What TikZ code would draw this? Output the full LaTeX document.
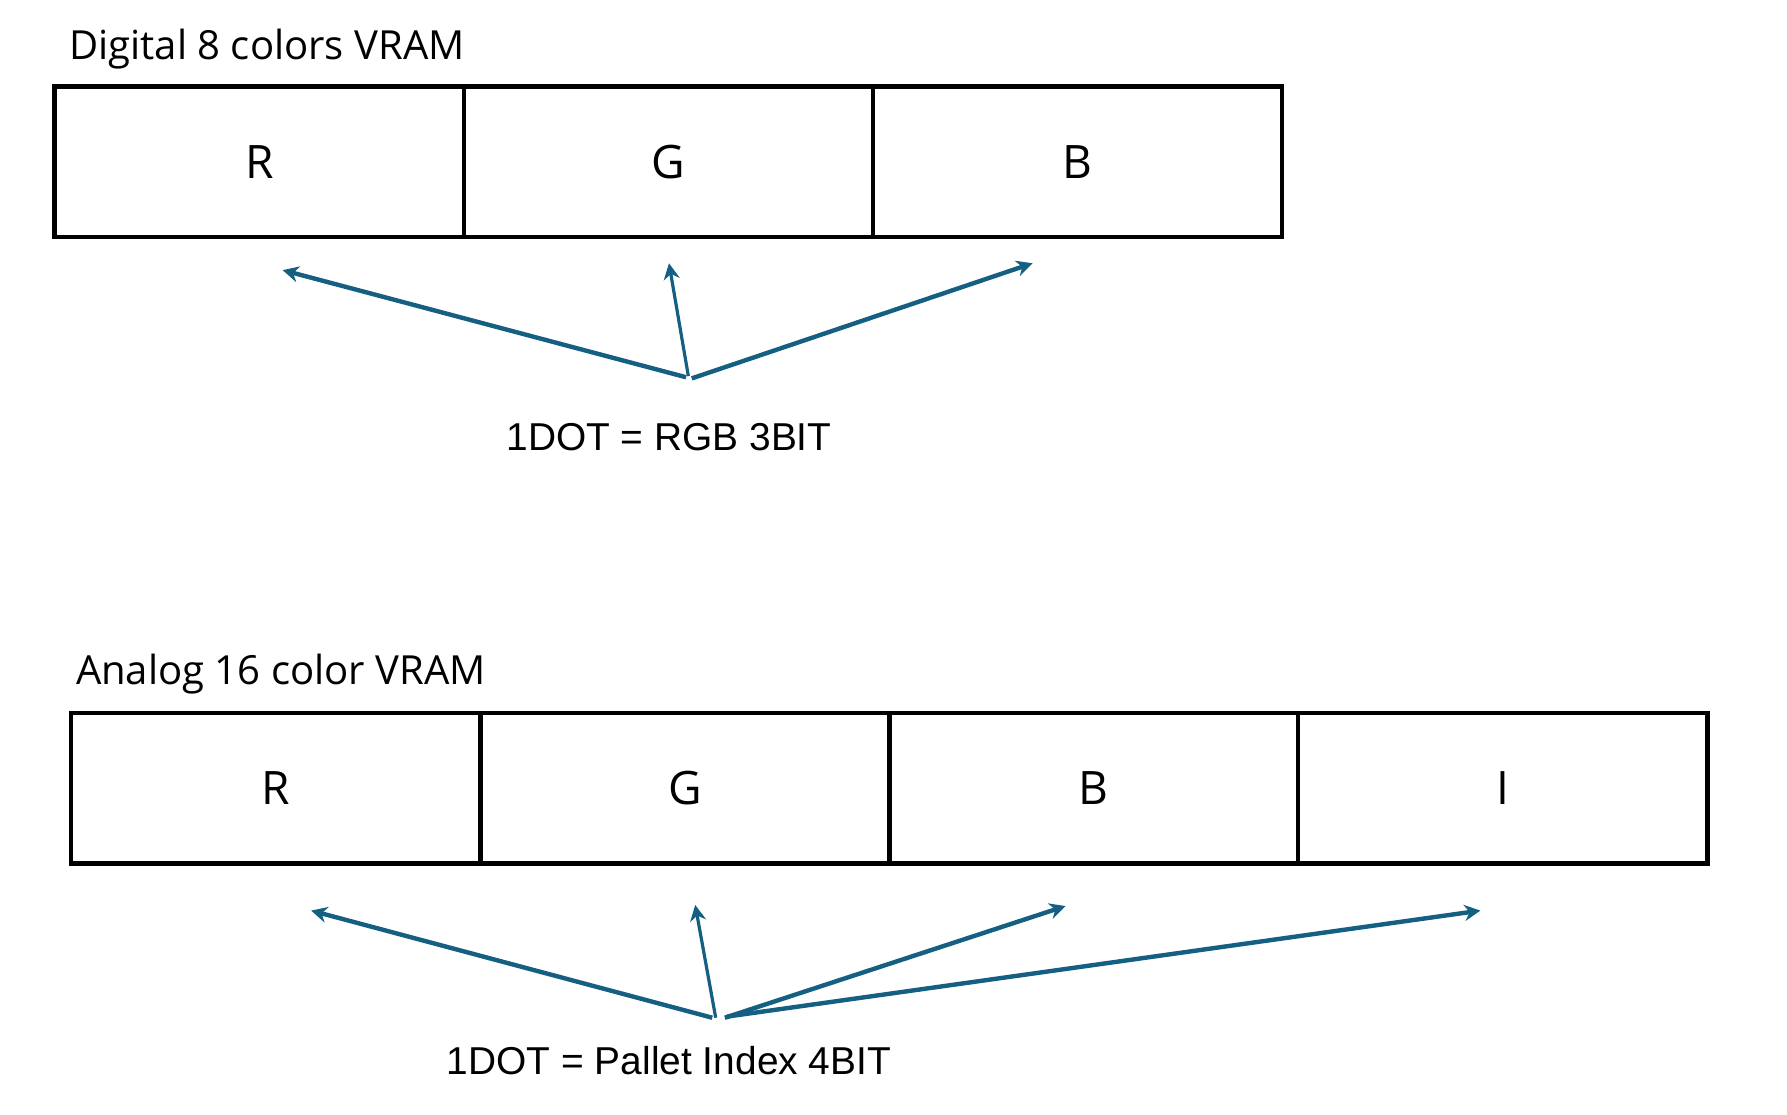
\documentclass[tikz,border=0pt]{standalone}
\usepackage{fontspec}
\setmainfont{Open Sans}
\newfontfamily\labfont{Liberation Sans}
\usetikzlibrary{arrows.meta}
\definecolor{arrblue}{HTML}{156082}
\tikzset{
  cell/.style={draw=black, line width=1.1pt, minimum width=3.59cm, minimum height=1.32cm, inner sep=0pt, font=\fontsize{11.5}{14}\selectfont},
  title/.style={inner sep=0pt, font=\fontsize{10}{12}\selectfont},
  lab/.style={inner sep=0pt, font=\labfont\fontsize{9.7}{12}\selectfont},
  arr/.style={draw=arrblue, line width=1.1pt, -{Stealth[length=4pt,width=4pt]}},
  arrthin/.style={arr, line width=0.8pt}
}
\begin{document}
\begin{tikzpicture}[x=0.01cm,y=-0.01cm]
\useasboundingbox (0,0) rectangle (1568,978);
% top
\node[title, anchor=base west] (t1) at (60,52) {Digital 8 colors VRAM};
\node[cell] (r1) at (227.5,142) {R};
\node[cell] (g1) at (586.5,142) {G};
\node[cell] (b1) at (945.5,142) {B};
\node[lab, anchor=base] (l1) at (587,395) {1DOT = RGB 3BIT};
\coordinate (o1a) at (602,331);
\coordinate (o1b) at (604,330);
\coordinate (o1c) at (607,332);
\coordinate (e1a) at (248,237);
\coordinate (e1b) at (587,231);
\coordinate (e1c) at (906,231);
\draw[arr] (o1a) -- (e1a);
\draw[arrthin] (o1b) -- (e1b);
\draw[arr] (o1c) -- (e1c);
% bottom
\node[title, anchor=base west] (t2) at (66,601) {Analog 16 color VRAM};
\node[cell] (r2) at (242,691.5) {R};
\node[cell] (g2) at (601,691.5) {G};
\node[cell] (b2) at (959.5,691.5) {B};
\node[cell] (i2) at (1318.5,691.5) {I};
\node[lab, anchor=base] (l2) at (587,943) {1DOT = Pallet Index 4BIT};
\coordinate (o2a) at (625,893);
\coordinate (o2b) at (628,893);
\coordinate (o2c) at (636,893);
\coordinate (o2d) at (638,892);
\coordinate (e2a) at (273,799);
\coordinate (e2b) at (610,794);
\coordinate (e2c) at (935,795);
\coordinate (e2d) at (1299,799);
\draw[arr] (o2a) -- (e2a);
\draw[arrthin] (o2b) -- (e2b);
\draw[arr] (o2c) -- (e2c);
\draw[arr] (o2d) -- (e2d);
\end{tikzpicture}
\end{document}
